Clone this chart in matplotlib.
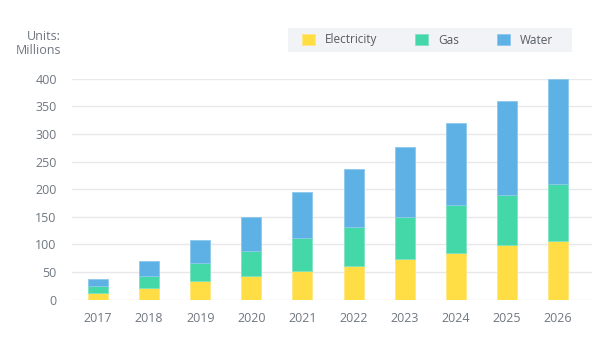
import numpy as np
import matplotlib.pyplot as plt
from matplotlib.patches import Rectangle

years = ["2017", "2018", "2019", "2020", "2021", "2022", "2023", "2024", "2025", "2026"]
electricity = [12, 21, 34, 43, 52, 61, 74, 85, 98, 106]
gas = [13, 22, 33, 45, 60, 71, 76, 86, 91, 103]
water = [12, 26, 41, 61, 83, 105, 127, 149, 170, 191]
y_ticks = [0, 50, 100, 150, 200, 250, 300, 350, 400]

plt.rcParams["font.family"] = ["Open Sans", "DejaVu Sans"]

fig = plt.figure(figsize=(6, 3.52), dpi=100)
ax = fig.add_axes([0.12, 0.149, 0.867, 0.627])

x = np.arange(len(years))
elec = np.array(electricity)
g = np.array(gas)
w = np.array(water)

w_bar = 0.39
ax.bar(x, elec, width=w_bar, color="#FFDD44", edgecolor="#FFE680", linewidth=0.6,
       label="Electricity", zorder=3)
ax.bar(x, g, width=w_bar, bottom=elec, color="#44D7A8", edgecolor="#7FE3C3",
       linewidth=0.6, label="Gas", zorder=3)
ax.bar(x, w, width=w_bar, bottom=elec + g, color="#5DB1E4", edgecolor="#8CC8EC",
       linewidth=0.6, label="Water", zorder=3)

ax.set_xlim(-0.51, 9.67)
ax.set_ylim(0, 400)
ax.set_yticks(y_ticks)
ax.set_xticks(x)
ax.set_xticklabels(years)
ax.yaxis.grid(True, color="#E8E8EC", linewidth=1, zorder=0)
ax.set_axisbelow(True)
for s in ax.spines.values():
    s.set_visible(False)
ax.tick_params(axis="both", length=0, labelsize=9, colors="#707780")
ax.tick_params(axis="y", pad=11)
ax.tick_params(axis="x", pad=9)

fig.text(0.102, 0.877, "Units:\nMillions", ha="right", va="center",
         fontsize=9, color="#707780", linespacing=1.15)

# legend background box
fig.patches.append(Rectangle((0.48, 0.8523), 0.4733, 0.0682,
                             transform=fig.transFigure, facecolor="#F2F3F7",
                             edgecolor="none", zorder=0))

leg = fig.legend(loc="center left", bbox_to_anchor=(302 / 600, 1 - 40 / 352), ncol=3,
                 frameon=False, fontsize=8.5,
                 handlelength=1.1, handleheight=1.0, handletextpad=0.85,
                 columnspacing=3.2, borderpad=0, borderaxespad=0)
for t in leg.get_texts():
    t.set_color("#555B63")

fig.savefig("out.png", dpi=100)
